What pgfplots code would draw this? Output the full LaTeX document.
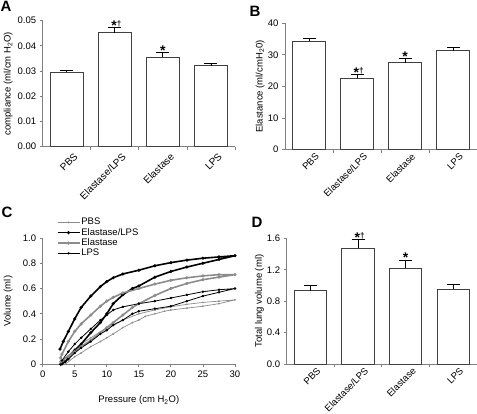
\documentclass[border=0pt]{standalone}
\usepackage{fontspec}
\setmainfont{Liberation Sans}
\usepackage{pgfplots}
\pgfplotsset{compat=1.18}
\pgfplotsset{
  base/.style={
    scale only axis,
    axis lines=left,
    axis line style={-, draw=black!50, line width=0.8pt},
    tick align=outside,
    major tick length=3pt,
    tick style={draw=black!50, line width=0.8pt},
    tick label style={font=\fontsize{9.5}{11}\selectfont, /pgf/number format/assume math mode=true, text=black},
    label style={font=\fontsize{9.5}{11}\selectfont},
    clip=false,
  },
  barax/.style={
    base,
    xmin=0.5, xmax=4.5, ymin=0,
    xtick={1,2,3,4},
    xticklabels={PBS,Elastase/LPS,Elastase,LPS},
    xtick style={draw=none},
    extra x ticks={1.5,2.5,3.5,4.5},
    extra x tick labels={},
    extra x tick style={xtick style={draw=black!50}},
    xticklabel style={rotate=45, anchor=north east, xshift=5.5pt, yshift=-3pt, inner sep=1pt},
    scaled y ticks=false,
  },
  barplot/.style={
    ybar, bar width=0.68, fill=white, draw=black!75, line width=0.9pt,
    error bars/.cd, y dir=plus, y explicit,
    error bar style={black, line width=0.8pt},
    error mark options={rotate=90, mark size=6.5pt, line width=0.8pt, black},
  },
}
\newcommand{\sig}{\fontsize{14}{14}\selectfont\bfseries *}
\newcommand{\dg}{\raisebox{4.5pt}{\fontsize{8}{8}\selectfont †}}
\begin{document}
\begin{tikzpicture}
\path[use as bounding box] (0pt,0pt) rectangle (477pt,414pt);

% Panel A
\begin{axis}[barax, at={(42.7pt,267.3pt)}, anchor=south west, width=192.3pt, height=126pt,
  ymax=0.05, ytick={0,0.01,0.02,0.03,0.04,0.05},
  yticklabel style={/pgf/number format/.cd, fixed, fixed zerofill, precision=2},
  xticklabel style={xshift=-1.5pt, yshift=-2.5pt, font=\fontsize{10}{11}\selectfont},
  ylabel={compliance (ml/cm H\textsubscript{2}O)},
  ylabel style={at={(axis description cs:-0.179,0.5)}, anchor=center, rotate=0}]
\addplot[barplot] coordinates {(1,0.0296) +- (0,0.0008) (2,0.0452) +- (0,0.0020) (3,0.0354) +- (0,0.0020) (4,0.0321) +- (0,0.0011)};
\node[anchor=base, inner sep=0pt, yshift=-3pt, xshift=1.5pt] at (axis cs:2,0.0472) {\sig\dg};
\node[anchor=base, inner sep=0pt, yshift=-3pt] at (axis cs:3,0.0374) {\sig};
\end{axis}

% Panel B
\begin{axis}[barax, at={(285pt,264.3pt)}, anchor=south west, width=192pt, height=126.4pt,
  ymax=40, ytick={0,10,20,30,40},
  ylabel={Elastance (ml/cmH\textsubscript{2}0)},
  ylabel style={at={(axis description cs:-0.129,0.5)}, anchor=center, rotate=0}]
\addplot[barplot] coordinates {(1,34.3) +- (0,0.9) (2,22.6) +- (0,1.1) (3,27.5) +- (0,1.4) (4,31.3) +- (0,1.0)};
\node[anchor=base, inner sep=0pt, yshift=-3pt, xshift=1.5pt] at (axis cs:2,23.7) {\sig\dg};
\node[anchor=base, inner sep=0pt, yshift=-3pt] at (axis cs:3,28.9) {\sig};
\end{axis}

% Panel C
\begin{axis}[base, at={(42.7pt,49.7pt)}, anchor=south west, width=192.3pt, height=126.3pt,
  xmin=0, xmax=30, ymin=0, ymax=1.0,
  xtick={0,5,10,15,20,25,30},
  ytick={0,0.2,0.4,0.6,0.8,1.0},
  yticklabels={0,0.2,0.4,0.6,0.8,1.0},
  xlabel={Pressure (cm H\textsubscript{2}O)},
  xlabel style={at={(axis description cs:0.5,-0.283)}, anchor=center},
  ylabel={Volume (ml)},
  ylabel style={at={(axis description cs:-0.179,0.5)}, anchor=center, rotate=0},
  legend style={at={(axis description cs:0.072,1.165)}, anchor=north west, draw=none, fill=none,
    font=\fontsize{9.5}{11}\selectfont, row sep=0pt, inner sep=0pt,
    nodes={inner sep=1pt}},
  legend cell align=left,
  legend image code/.code={\draw[mark repeat=2,mark phase=2,#1] plot coordinates {(0pt,0pt) (11pt,0pt) (22pt,0pt)};},
]
\addplot[black!45, line width=0.7pt, mark=*, mark size=0.5pt] coordinates {
(3.5,0.0) (5,0.06) (6,0.09) (7.5,0.14) (9,0.18) (10,0.21) (11,0.24) (12.5,0.29) (14,0.33) (15,0.35) (16,0.38) (17.5,0.40) (19,0.42) (20,0.43) (22.5,0.445) (25,0.46) (27.5,0.48) (30,0.51)
(27.5,0.50) (25,0.49) (22.5,0.475) (20,0.455) (17.5,0.43) (15,0.40) (12.5,0.35) (10,0.29) (7.5,0.21) (6,0.16) (5,0.12) (4,0.07) (3,0.03)};
\addlegendentry{PBS}
\addplot[black, line width=1.6pt, mark=*, mark size=0.6pt] coordinates {
(2.8,0.0) (3.5,0.02) (4,0.05) (5,0.11) (6,0.16) (7.5,0.25) (9,0.33) (10,0.40) (11,0.48) (12.5,0.55) (14,0.60) (15,0.62) (17.5,0.69) (20,0.735) (22.5,0.77) (25,0.80) (27.5,0.83) (30,0.86)
(27.5,0.85) (25,0.84) (22.5,0.825) (20,0.805) (17.5,0.78) (15,0.745) (12.5,0.715) (11,0.685) (10,0.655) (9,0.615) (7.5,0.54) (6,0.45) (5,0.36) (4,0.26) (3.2,0.18) (2.7,0.12)};
\addlegendentry{Elastase/LPS}
\addplot[black!45, line width=1.6pt, mark=*, mark size=0.6pt] coordinates {
(2.8,0.02) (4,0.06) (5,0.10) (6,0.14) (7.5,0.19) (9,0.25) (10,0.29) (11,0.33) (12.5,0.39) (14,0.45) (15,0.48) (17.5,0.545) (20,0.60) (22.5,0.64) (25,0.67) (27.5,0.69) (30,0.71)
(27.5,0.71) (25,0.70) (22.5,0.685) (20,0.665) (17.5,0.635) (15,0.60) (12.5,0.565) (11,0.53) (10,0.50) (9,0.46) (7.5,0.39) (6,0.32) (5,0.26) (4,0.18) (3,0.08) (2.8,0.05)};
\addlegendentry{Elastase}
\addplot[black, line width=0.8pt, mark=*, mark size=0.8pt] coordinates {
(3,0.0) (4,0.04) (5,0.09) (6,0.13) (7.5,0.18) (9,0.24) (10,0.27) (11,0.31) (12.5,0.35) (14,0.40) (15,0.42) (17.5,0.44) (20,0.46) (22.5,0.50) (25,0.54) (27.5,0.57) (30,0.60)
(27.5,0.59) (25,0.575) (22.5,0.55) (20,0.525) (17.5,0.50) (15,0.48) (12.5,0.455) (11,0.43) (10,0.39) (9,0.35) (7.5,0.28) (6,0.21) (5,0.16) (4,0.10) (3,0.03)};
\addlegendentry{LPS}
\end{axis}

% Panel D
\begin{axis}[barax, at={(286.7pt,50pt)}, anchor=south west, width=190.3pt, height=125.7pt,
  ymax=1.6, ytick={0,0.4,0.8,1.2,1.6},
  yticklabel style={/pgf/number format/.cd, fixed, fixed zerofill, precision=1},
  ylabel={Total lung volume (ml)},
  ylabel style={at={(axis description cs:-0.143,0.5)}, anchor=center, rotate=0}]
\addplot[barplot] coordinates {(1,0.93) +- (0,0.07) (2,1.473) +- (0,0.11) (3,1.218) +- (0,0.106) (4,0.951) +- (0,0.065)};
\node[anchor=base, inner sep=0pt, yshift=-3pt, xshift=1.5pt] at (axis cs:2,1.583) {\sig\dg};
\node[anchor=base, inner sep=0pt, yshift=-3pt] at (axis cs:3,1.324) {\sig};
\end{axis}

% Panel letters
\node[anchor=north west, inner sep=0pt, font=\fontsize{15}{15}\selectfont\bfseries] at (0.5pt,413pt) {A};
\node[anchor=north west, inner sep=0pt, font=\fontsize{15}{15}\selectfont\bfseries] at (249.5pt,408.5pt) {B};
\node[anchor=north west, inner sep=0pt, font=\fontsize{15}{15}\selectfont\bfseries] at (1.5pt,207pt) {C};
\node[anchor=north west, inner sep=0pt, font=\fontsize{15}{15}\selectfont\bfseries] at (251.5pt,197pt) {D};
\end{tikzpicture}
\end{document}
